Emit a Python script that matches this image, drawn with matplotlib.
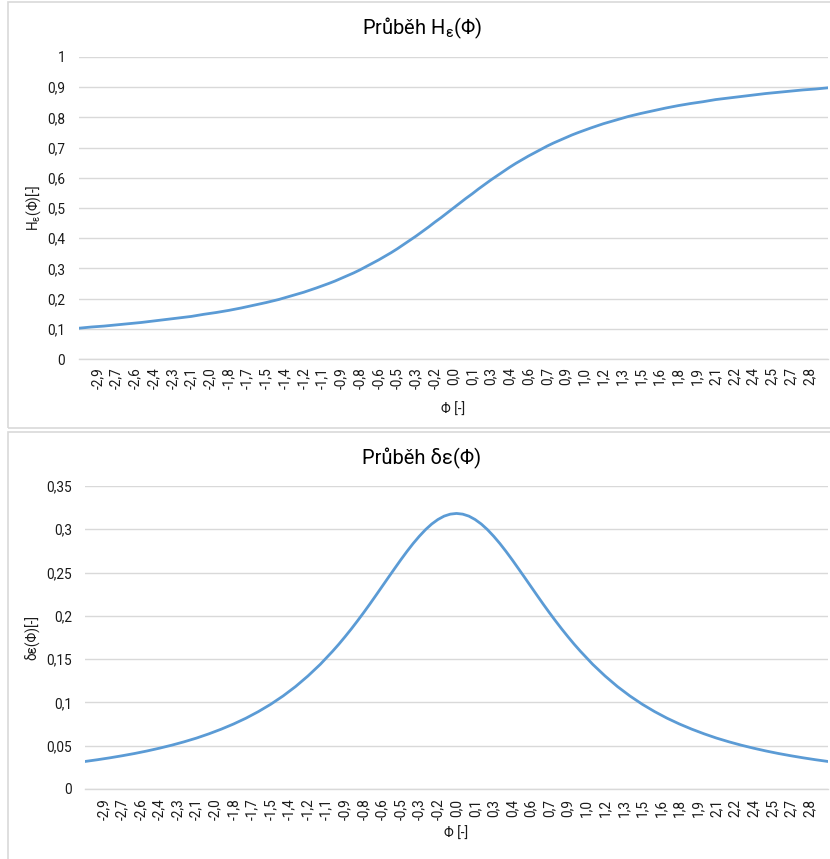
import matplotlib
matplotlib.use("Agg")
import matplotlib.pyplot as plt
from matplotlib.patches import Rectangle
import numpy as np

# ---- data ----
phi = [-3.0, -2.9, -2.8, -2.7, -2.6, -2.5, -2.4, -2.3, -2.2, -2.1, -2.0,
       -1.9, -1.8, -1.7, -1.6, -1.5, -1.4, -1.3, -1.2, -1.1,
       -1.0, -0.95, -0.9, -0.85, -0.8, -0.75, -0.7, -0.65, -0.6, -0.55,
       -0.5, -0.45, -0.4, -0.35, -0.3, -0.25, -0.2, -0.15, -0.1, -0.05,
       0.0,
       0.05, 0.1, 0.15, 0.2, 0.25, 0.3, 0.35, 0.4, 0.45, 0.5,
       0.55, 0.6, 0.65, 0.7, 0.75, 0.8, 0.85, 0.9, 0.95, 1.0,
       1.1, 1.2, 1.3, 1.4, 1.5, 1.6, 1.7, 1.8, 1.9, 2.0,
       2.1, 2.2, 2.3, 2.4, 2.5, 2.6, 2.7, 2.8, 2.9, 3.0]

H_eps = [0.102, 0.106, 0.109, 0.113, 0.117, 0.121, 0.126, 0.131, 0.136, 0.141, 0.148,
         0.154, 0.161, 0.169, 0.178, 0.187, 0.197, 0.209, 0.221, 0.235,
         0.250, 0.258, 0.267, 0.276, 0.285, 0.295, 0.306, 0.317, 0.328, 0.340,
         0.352, 0.365, 0.379, 0.393, 0.407, 0.422, 0.437, 0.453, 0.468, 0.484,
         0.500,
         0.516, 0.532, 0.547, 0.563, 0.578, 0.593, 0.607, 0.621, 0.635, 0.648,
         0.660, 0.672, 0.683, 0.694, 0.705, 0.715, 0.724, 0.733, 0.742, 0.750,
         0.765, 0.779, 0.791, 0.803, 0.813, 0.822, 0.831, 0.839, 0.846, 0.852,
         0.859, 0.864, 0.869, 0.874, 0.879, 0.883, 0.887, 0.891, 0.894, 0.898]

delta_eps = [0.0318, 0.0338, 0.0360, 0.0384, 0.0410, 0.0439, 0.0471, 0.0506, 0.0545, 0.0588, 0.0637,
             0.0691, 0.0751, 0.0818, 0.0894, 0.0979, 0.1075, 0.1183, 0.1305, 0.1440,
             0.1592, 0.1673, 0.1759, 0.1848, 0.1941, 0.2037, 0.2136, 0.2238, 0.2341, 0.2444,
             0.2546, 0.2647, 0.2744, 0.2836, 0.2920, 0.2996, 0.3061, 0.3113, 0.3152, 0.3175,
             0.3183,
             0.3175, 0.3152, 0.3113, 0.3061, 0.2996, 0.2920, 0.2836, 0.2744, 0.2647, 0.2546,
             0.2444, 0.2341, 0.2238, 0.2136, 0.2037, 0.1941, 0.1848, 0.1759, 0.1673, 0.1592,
             0.1440, 0.1305, 0.1183, 0.1075, 0.0979, 0.0894, 0.0818, 0.0751, 0.0691, 0.0637,
             0.0588, 0.0545, 0.0506, 0.0471, 0.0439, 0.0410, 0.0384, 0.0360, 0.0338, 0.0318]

x_tick_labels = ["-2,9", "-2,7", "-2,6", "-2,4", "-2,3", "-2,1", "-2,0", "-1,8", "-1,7",
                 "-1,5", "-1,4", "-1,2", "-1,1", "-0,9", "-0,8", "-0,6", "-0,5", "-0,3",
                 "-0,2", "0,0", "0,1", "0,3", "0,4", "0,6", "0,7", "0,9", "1,0", "1,2",
                 "1,3", "1,5", "1,6", "1,8", "1,9", "2,1", "2,2", "2,4", "2,5", "2,7", "2,8"]
x_tick_pos = np.linspace(-2.85, 2.85, len(x_tick_labels))

top_yticks = [0, 0.1, 0.2, 0.3, 0.4, 0.5, 0.6, 0.7, 0.8, 0.9, 1.0]
top_ylabels = ["0", "0,1", "0,2", "0,3", "0,4", "0,5", "0,6", "0,7", "0,8", "0,9", "1"]
bot_yticks = [0, 0.05, 0.1, 0.15, 0.2, 0.25, 0.3, 0.35]
bot_ylabels = ["0", "0,05", "0,1", "0,15", "0,2", "0,25", "0,3", "0,35"]

# ---- style ----
FONT = ["Roboto", "DejaVu Sans"]
plt.rcParams["font.family"] = FONT
plt.rcParams["mathtext.fontset"] = "custom"
plt.rcParams["mathtext.rm"] = "Roboto"
plt.rcParams["mathtext.it"] = "Roboto:italic"
GRID = "#d9d9d9"
LINE = "#5b9bd5"

W, Hh = 830, 859
fig = plt.figure(figsize=(W / 100, Hh / 100), dpi=100)


def px_axes(left, top, right, bottom):
    return fig.add_axes([left / W, 1 - bottom / Hh, (right - left) / W, (bottom - top) / Hh])


# chart borders
for (l, t, r, b) in [(8, 2, 840, 428), (8, 432, 840, 870)]:
    fig.patches.append(Rectangle((l / W, 1 - b / Hh), (r - l) / W, (b - t) / Hh,
                                 transform=fig.transFigure, fill=False,
                                 edgecolor=GRID, lw=1.2))


def style(ax, yticks, ylabels, ymax, ypad, xpad):
    ax.set_xlim(-3.0, 3.0)
    ax.set_ylim(0, ymax)
    ax.set_yticks(yticks)
    ax.set_yticklabels(ylabels)
    ax.set_xticks(x_tick_pos)
    ax.set_xticklabels(x_tick_labels, rotation=90, va="top", ha="center")
    ax.tick_params(axis="both", length=0, labelsize=9.8, colors="#1a1a1a")
    ax.tick_params(axis="y", pad=ypad)
    ax.tick_params(axis="x", pad=xpad)
    for s in ["left", "right", "top"]:
        ax.spines[s].set_visible(False)
    ax.spines["bottom"].set_color(GRID)
    ax.spines["bottom"].set_linewidth(1)
    ax.grid(axis="y", color=GRID, lw=1)
    ax.set_axisbelow(True)


ax1 = px_axes(79, 57, 828, 359)
ax1.plot(phi, H_eps, color=LINE, lw=2.0, solid_capstyle="round", solid_joinstyle="round")
style(ax1, top_yticks, top_ylabels, 1.0, 10, 6)

ax2 = px_axes(85, 486, 828, 789)
ax2.plot(phi, delta_eps, color=LINE, lw=2.0, solid_capstyle="round", solid_joinstyle="round")
style(ax2, bot_yticks, bot_ylabels, 0.35, 9.5, 7)

# titles
fig.text(422 / W, 1 - 28 / Hh, r"Průběh H$_{\mathrm{ε}}$(Φ)", ha="center", va="center",
         fontsize=14.5, color="black")
fig.text(422 / W, 1 - 458 / Hh, "Průběh δε(Φ)", ha="center", va="center",
         fontsize=14.5, color="black")

# axis titles
fig.text(453 / W, 1 - 410 / Hh, "Φ [-]", ha="center", va="center", fontsize=9.8, color="#1a1a1a")
fig.text(456 / W, 1 - 834 / Hh, "Φ [-]", ha="center", va="center", fontsize=9.8, color="#1a1a1a")
fig.text(34 / W, 1 - 208 / Hh, r"H$_{\mathrm{ε}}$(Φ)[-]", ha="center", va="center",
         rotation=90, fontsize=9.8, color="#1a1a1a")
fig.text(33 / W, 1 - 638 / Hh, "δε(Φ)[-]", ha="center", va="center",
         rotation=90, fontsize=9.8, color="#1a1a1a")

fig.savefig("out.png", dpi=100)
